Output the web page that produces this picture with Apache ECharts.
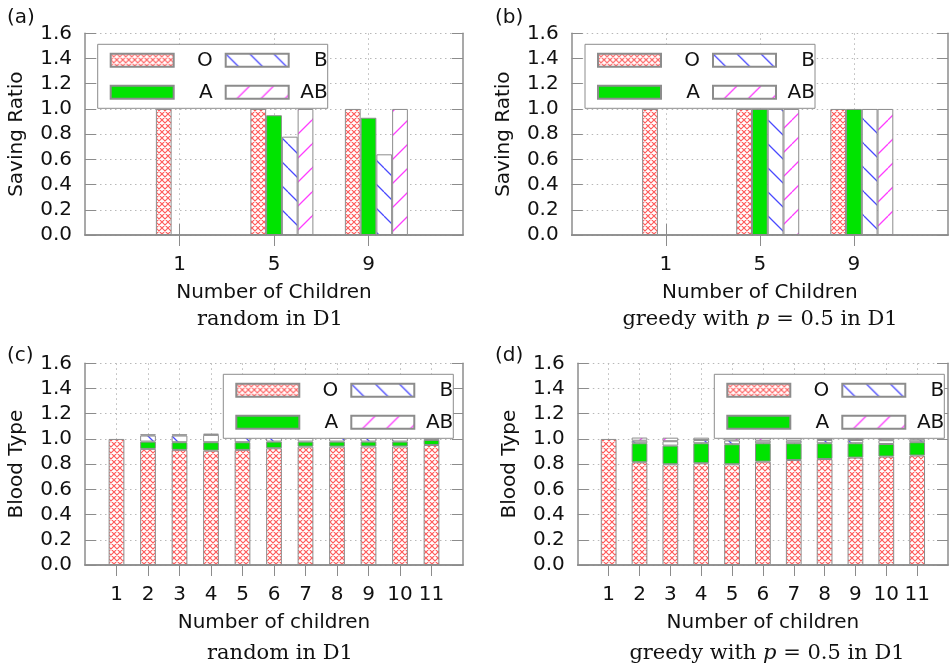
<!DOCTYPE html>
<html>
<head>
<meta charset="utf-8">
<script src="https://cdn.jsdelivr.net/npm/echarts@6/dist/echarts.min.js"></script>
<style>
  html, body { margin: 0; padding: 0; background: #fff; }
  #chart { width: 951px; height: 667px; }
</style>
</head>
<body>
<div id="chart"></div>
<script>
// ---- Panels (a) and (b): saving ratio per blood type, grouped by number of children
const childGroups = ['1', '5', '9'];
const randomO  = [1.0, 1.0, 1.0];
const randomA  = [null, 0.95, 0.93];
const randomB  = [null, 0.78, 0.64];
const randomAB = [null, 1.0, 1.0];
const greedyO  = [1.0, 1.0, 1.0];
const greedyA  = [null, 1.0, 1.0];
const greedyB  = [null, 1.0, 1.0];
const greedyAB = [null, 1.0, 1.0];

// ---- Panels (c) and (d): blood type composition, stacked, per number of children
const childCounts = ['1', '2', '3', '4', '5', '6', '7', '8', '9', '10', '11'];
const mixRandomO  = [1.0, 0.921, 0.913, 0.907, 0.913, 0.926, 0.939, 0.939, 0.940, 0.940, 0.952];
const mixRandomA  = [null, 0.058, 0.061, 0.067, 0.061, 0.053, 0.040, 0.040, 0.039, 0.039, 0.040];
const mixRandomB  = [null, 0.048, 0.053, 0.058, 0.053, 0.048, 0.030, 0.030, 0.030, 0.030, 0.018];
const mixRandomAB = [null, 0.010, 0.010, 0.010, 0.010, 0.010, 0.008, 0.008, 0.008, 0.008, 0.008];
const mixGreedyO  = [1.0, 0.815, 0.799, 0.807, 0.799, 0.820, 0.833, 0.841, 0.852, 0.860, 0.868];
const mixGreedyA  = [null, 0.151, 0.148, 0.159, 0.159, 0.146, 0.133, 0.125, 0.114, 0.100, 0.106];
const mixGreedyB  = [null, 0.020, 0.035, 0.025, 0.030, 0.020, 0.020, 0.025, 0.025, 0.030, 0.020];
const mixGreedyAB = [null, 0.025, 0.028, 0.019, 0.022, 0.025, 0.023, 0.019, 0.019, 0.018, 0.014];

const legendOrder = ['O', 'B', 'A', 'AB'];

// ---- fill patterns
function tile(size, draw) {
  const c = document.createElement('canvas');
  c.width = size; c.height = size;
  const ctx = c.getContext('2d');
  ctx.fillStyle = '#ffffff';
  ctx.fillRect(0, 0, size, size);
  draw(ctx, size);
  return { image: c, repeat: 'repeat' };
}
const crossHatch = tile(6, (ctx, s) => {
  ctx.strokeStyle = 'rgba(255, 80, 80, 0.95)';
  ctx.lineWidth = 1.15;
  ctx.beginPath();
  for (const k of [-s, 0, s]) {
    ctx.moveTo(k, 0); ctx.lineTo(k + s, s);
    ctx.moveTo(k + s, 0); ctx.lineTo(k, s);
  }
  ctx.stroke();
});
const backHatch = tile(24, (ctx, s) => {
  ctx.strokeStyle = '#4a4aff';
  ctx.lineWidth = 1.3;
  ctx.beginPath();
  for (const k of [-s, 0, s]) { ctx.moveTo(k, 0); ctx.lineTo(k + s, s); }
  ctx.stroke();
});
const fwdHatch = tile(24, (ctx, s) => {
  ctx.strokeStyle = '#ff3cff';
  ctx.lineWidth = 1.3;
  ctx.beginPath();
  for (const k of [-s, 0, s]) { ctx.moveTo(k + s, 0); ctx.lineTo(k, s); }
  ctx.stroke();
});

const GREEN = '#00e400';
const FRAME = '#8c8c8c';
const GRIDLINE = '#b8b8b8';
const SANS = 'DejaVu Sans';
const SERIF = 'DejaVu Serif';
const INK = '#111';

const fills = { O: crossHatch, A: GREEN, B: backHatch, AB: fwdHatch };

// panel frames
const panels = [
  { left: 85,    top: 33.3,  width: 378,   height: 201.7, cats: ['', ...childGroups, ''],  xName: 'Number of Children', yName: 'Saving Ratio' },
  { left: 571.7, top: 33.3,  width: 378.3, height: 201.7, cats: ['', ...childGroups, ''],  xName: 'Number of Children', yName: 'Saving Ratio' },
  { left: 85,    top: 363.3, width: 378,   height: 201.7, cats: ['', ...childCounts, ''], xName: 'Number of children', yName: 'Blood Type' },
  { left: 577.8, top: 363.3, width: 378,   height: 201.7, cats: ['', ...childCounts, ''], xName: 'Number of children', yName: 'Blood Type' }
];
const legendBoxes = [
  { left: 97.7,  top: 44.3 },
  { left: 585,   top: 44.3 },
  { left: 223.3, top: 374.3 },
  { left: 714.3, top: 374.3 }
];

const pad = arr => [null, ...arr, null];
const notBlank = (i, v) => v !== '';

const grid = [], xAxis = [], yAxis = [], legend = [], series = [];

panels.forEach((p, i) => {
  grid.push({ left: p.left, top: p.top, width: p.width, height: p.height, containLabel: false });
  const axisLine = { show: true, lineStyle: { color: FRAME, width: 1.5 } };
  const tick = { show: true, inside: true, length: 11, interval: notBlank, lineStyle: { color: FRAME, width: 1 } };
  xAxis.push({
    gridIndex: i, type: 'category', position: 'bottom', data: p.cats, boundaryGap: false,
    axisLine, axisTick: tick,
    axisLabel: { fontFamily: SANS, fontSize: 20, color: INK, margin: 20, interval: 0 },
    splitLine: { show: true, interval: notBlank, lineStyle: { color: GRIDLINE, width: 1, type: [1.5, 3.5] } },
    name: p.xName, nameLocation: 'middle', nameGap: 48,
    nameTextStyle: { fontFamily: SANS, fontSize: 20, color: INK }
  });
  xAxis.push({
    gridIndex: i, type: 'category', position: 'top', data: p.cats, boundaryGap: false,
    axisLine, axisTick: tick, axisLabel: { show: false }, splitLine: { show: false }
  });
  const ytick = { show: true, inside: true, length: 11, lineStyle: { color: FRAME, width: 1 } };
  yAxis.push({
    gridIndex: i, type: 'value', position: 'left', min: 0, max: 1.6, interval: 0.2,
    axisLine, axisTick: ytick,
    axisLabel: { fontFamily: SANS, fontSize: 20, color: INK, margin: 13, formatter: v => v.toFixed(1) },
    splitLine: { show: true, lineStyle: { color: GRIDLINE, width: 1, type: [1.5, 3.5] } },
    name: p.yName, nameLocation: 'middle', nameGap: 58, nameRotate: 90,
    nameTextStyle: { fontFamily: SANS, fontSize: 20, color: INK }
  });
  yAxis.push({
    gridIndex: i, type: 'value', position: 'right', min: 0, max: 1.6, interval: 0.2,
    axisLine, axisTick: ytick, axisLabel: { show: false }, splitLine: { show: false }
  });

  const lb = legendBoxes[i];
  legend.push({
    data: legendOrder, left: lb.left, top: lb.top, width: 222,
    orient: 'horizontal', icon: 'rect', itemWidth: 63, itemHeight: 13, itemGap: 12,
    padding: [6, 0, 6, 12],
    backgroundColor: '#fff', borderColor: FRAME, borderWidth: 1, borderRadius: 0,
    selectedMode: false,
    formatter: name => '{t|' + name + '}',
    textStyle: {
      fontFamily: SANS, fontSize: 20, color: INK,
      rich: { t: { width: 34, align: 'right', fontFamily: SANS, fontSize: 20, color: INK, lineHeight: 15.5 } }
    }
  });
});

function bar(name, data, gi, extra) {
  return Object.assign({
    type: 'bar', name, data, xAxisIndex: 2 * gi, yAxisIndex: 2 * gi,
    barWidth: 15.75, barGap: '0%',
    itemStyle: { color: fills[name], borderColor: FRAME, borderWidth: 1 },
    emphasis: { disabled: true }, animation: false
  }, extra || {});
}

// grouped panels: a blank leading slot keeps the A bar on the tick
[[randomO, randomA, randomB, randomAB], [greedyO, greedyA, greedyB, greedyAB]].forEach((set, gi) => {
  series.push(Object.assign(bar('spacer', pad(childGroups.map(() => null)), gi), { itemStyle: { color: 'transparent', borderWidth: 0 } }));
  ['O', 'A', 'B', 'AB'].forEach((n, k) => series.push(bar(n, pad(set[k]), gi)));
});
// stacked panels
[[mixRandomO, mixRandomA, mixRandomB, mixRandomAB], [mixGreedyO, mixGreedyA, mixGreedyB, mixGreedyAB]].forEach((set, j) => {
  const gi = j + 2;
  ['O', 'A', 'B', 'AB'].forEach((n, k) => series.push(bar(n, pad(set[k]), gi, { stack: 'mix' + gi })));
});

function caption(text, x, y) {
  return {
    type: 'text', x, y, silent: true,
    style: {
      text, fontFamily: SERIF, fontSize: 21, fill: INK,
      align: 'center', verticalAlign: 'middle', textAlign: 'center', textVerticalAlign: 'middle',
      rich: { i: { fontFamily: SERIF, fontSize: 21, fontStyle: 'italic', fill: INK } }
    }
  };
}
function tag(text, x, y) {
  return { type: 'text', x, y, silent: true, style: { text, fontFamily: SANS, fontSize: 20, fill: INK } };
}

const chart = echarts.init(document.getElementById('chart'), null, { renderer: 'canvas' });
chart.setOption({
  backgroundColor: '#fff',
  animation: false,
  grid, xAxis, yAxis, legend, series,
  graphic: [
    tag('(a)', 7, 8), tag('(b)', 495, 8), tag('(c)', 7, 346), tag('(d)', 495, 346),
    caption('random in D1', 270, 320),
    caption('greedy with {i|p} = 0.5 in D1', 760, 320),
    caption('random in D1', 280, 654),
    caption('greedy with {i|p} = 0.5 in D1', 767, 654)
  ]
});
</script>
</body>
</html>
